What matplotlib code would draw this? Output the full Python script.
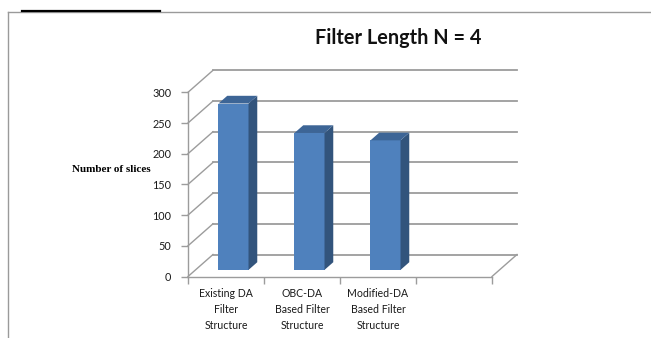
import matplotlib
matplotlib.use("Agg")
import matplotlib.pyplot as plt
from matplotlib.patches import Polygon
from matplotlib.lines import Line2D

# ---- data ----
categories = ["Existing DA\nFilter\nStructure",
              "OBC-DA\nBased Filter\nStructure",
              "Modified-DA\nBased Filter\nStructure",
              ""]
values = [271, 223, 211]
yticks = [0, 50, 100, 150, 200, 250, 300]
title = "Filter Length N = 4"
ylabel = "Number of slices"

# ---- style ----
W, H = 651, 338
DPI = 100
front_col = "#4F81BD"
side_col = "#32547C"
top_col = "#3D6596"
grid_col = "#9C9C9C"
font = "Lato"

fig = plt.figure(figsize=(W / DPI, H / DPI), dpi=DPI)
fig.patch.set_facecolor("white")

# axes placement in pixels (front plane)
x0p, y0p = 188, 276.5
x1p, y1p = 492, 92.3
ax = fig.add_axes([x0p / W, (H - y0p) / H, (x1p - x0p) / W, (y0p - y1p) / H])
ncat = len(categories)
ymax = yticks[-1]
ax.set_xlim(0, ncat)
ax.set_ylim(0, ymax)
ax.patch.set_alpha(0)

px_per_x = (x1p - x0p) / ncat
px_per_y = (y0p - y1p) / ymax
ddx = 25 / px_per_x       # depth offset in data units (x)
ddy = 22 / px_per_y       # depth offset in data units (y)

# walls / gridlines
for v in yticks:
    ax.add_line(Line2D([0, ddx], [v, v + ddy], color=grid_col, lw=1, clip_on=False, zorder=1))
    ax.add_line(Line2D([ddx, ncat + ddx], [v + ddy, v + ddy], color=grid_col, lw=1.3, clip_on=False, zorder=1))
ax.add_line(Line2D([ncat, ncat + ddx], [0, ddy], color=grid_col, lw=1, clip_on=False, zorder=1))

# spines
for s in ["top", "right"]:
    ax.spines[s].set_visible(False)
for s in ["left", "bottom"]:
    ax.spines[s].set_color(grid_col)
    ax.spines[s].set_linewidth(1)

# bars
d0 = 0.30     # front depth of bar
t = 0.35      # bar depth thickness
bw = 0.395
centers = [i + 0.5 for i in range(len(values))]
xs = [c + d0 * ddx for c in centers]
ax.bar(xs, values, width=bw, bottom=d0 * ddy, color=front_col, zorder=3, clip_on=False)
for xc, v in zip(xs, values):
    xl, xr = xc - bw / 2, xc + bw / 2
    yb, yt = d0 * ddy, d0 * ddy + v
    side = Polygon([(xr, yb), (xr, yt), (xr + t * ddx, yt + t * ddy), (xr + t * ddx, yb + t * ddy)],
                   closed=True, facecolor=side_col, edgecolor="none", zorder=3, clip_on=False)
    top = Polygon([(xl, yt), (xr, yt), (xr + t * ddx, yt + t * ddy), (xl + t * ddx, yt + t * ddy)],
                  closed=True, facecolor=top_col, edgecolor="none", zorder=3, clip_on=False)
    ax.add_patch(side)
    ax.add_patch(top)

# ticks
ax.set_yticks(yticks)
ax.set_yticklabels([str(v) for v in yticks], fontfamily=font, fontsize=7.8, color="#1a1a1a")
ax.tick_params(axis="y", length=5, width=1, color=grid_col, pad=7)
ax.set_xticks(range(ncat + 1))
ax.set_xticklabels([])
ax.set_xticks([i + 0.5 for i in range(ncat)], minor=True)
ax.set_xticklabels(categories, minor=True, fontfamily=font, fontsize=7.6,
                   color="#1a1a1a", linespacing=1.55)
ax.tick_params(axis="x", which="major", length=5, width=1, color=grid_col)
ax.tick_params(axis="x", which="minor", length=0, pad=8)

# title & y label
fig.text(398 / W, (H - 43.5) / H, title, fontfamily=font, fontweight="bold",
         fontsize=14.3, ha="center", va="baseline", color="#111111")
fig.text(111.5 / W, (H - 170) / H, ylabel, fontfamily="Liberation Serif", fontweight="bold",
         fontsize=8, ha="center", va="center", color="black")

# frame lines
fig.add_artist(Line2D([8 / W, 1], [(H - 12) / H] * 2, color="#9a9a9a", lw=1))
fig.add_artist(Line2D([22 / W, 160 / W], [(H - 10.5) / H] * 2, color="black", lw=1.6))
fig.add_artist(Line2D([8 / W, 8 / W], [0, (H - 12) / H], color="#9a9a9a", lw=1))

fig.savefig("out.png", dpi=DPI)
